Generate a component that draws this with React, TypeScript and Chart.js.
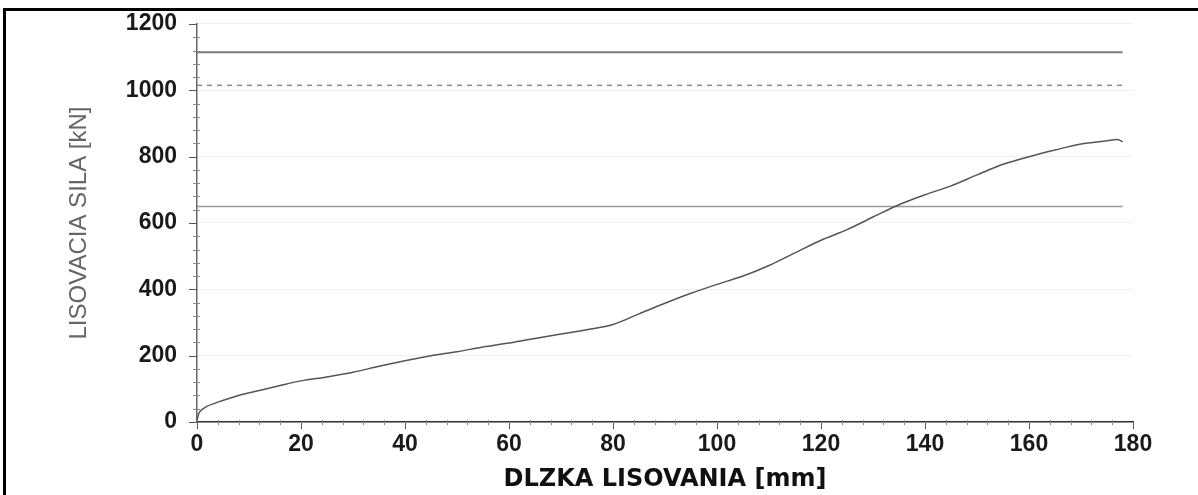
import React, { useEffect, useRef } from "react";
import { Chart, registerables } from "chart.js";

Chart.register(...registerables);

// Press stroke (mm) and press force (kN)
const distanceMm = [0, 0.4, 1, 2, 4, 8, 12, 16, 20, 25, 30, 35, 40, 45, 50, 55, 60, 65, 70, 75, 80, 85, 90, 95, 100, 105, 110, 115, 120, 125, 130, 135, 140, 145, 150, 155, 160, 165, 170, 175, 177, 178];
const forceKn = [5, 28, 38, 48, 60, 80, 95, 110, 124, 136, 150, 168, 185, 200, 212, 226, 238, 252, 265, 278, 294, 326, 358, 388, 415, 440, 472, 510, 548, 580, 618, 655, 685, 712, 745, 777, 800, 820, 838, 848, 852, 845];

// Horizontal reference levels (kN) and their extent (mm)
const referenceLevels = [1115, 1015, 650];
const referenceExtent = [0, 178];

const xTickValues = [0, 20, 40, 60, 80, 100, 120, 140, 160, 180];
const yTickValues = [0, 200, 400, 600, 800, 1000, 1200];
const xMinorStep = 4;
const yMinorStep = 40;

const xTitle = "DLZKA LISOVANIA [mm]";
const yTitle = "LISOVACIA SILA [kN]";

const axisTicksPlugin = {
  id: "axisTicks",
  afterDraw(chart: any) {
    const { ctx } = chart;
    const xs = chart.scales.x;
    const ys = chart.scales.y;
    ctx.save();
    ctx.lineWidth = 1;
    const ax = xs.getPixelForValue(0);
    const ay = ys.getPixelForValue(0);
    // y ticks
    for (let v = ys.min; v <= ys.max; v += yMinorStep) {
      const major = v % 200 === 0;
      const py = Math.round(ys.getPixelForValue(v)) + 0.5;
      ctx.strokeStyle = major ? "#555" : "#888";
      ctx.beginPath();
      if (major) {
        ctx.moveTo(ax - 8, py);
        ctx.lineTo(ax, py);
      } else {
        ctx.moveTo(ax - 4, py);
        ctx.lineTo(ax + 3, py);
      }
      ctx.stroke();
    }
    // x minor ticks
    ctx.strokeStyle = "#888";
    for (let v = xs.min; v <= xs.max; v += xMinorStep) {
      if (v % 20 === 0) continue;
      const px = Math.round(xs.getPixelForValue(v)) + 0.5;
      ctx.beginPath();
      ctx.moveTo(px, ay - 2);
      ctx.lineTo(px, ay + 3);
      ctx.stroke();
    }
    ctx.restore();
  },
};

export default function App() {
  const canvasRef = useRef<HTMLCanvasElement | null>(null);

  useEffect(() => {
    if (!canvasRef.current) return;
    const refStyles = [
      { color: "#7a7a7a", width: 2, dash: [] as number[] },
      { color: "#8c8c8c", width: 1.5, dash: [5, 5] },
      { color: "#999999", width: 1.5, dash: [] as number[] },
    ];
    const refDatasets = referenceLevels.map((lvl, i) => ({
      type: "line" as const,
      data: referenceExtent.map((x) => ({ x, y: lvl })),
      borderColor: refStyles[i].color,
      borderWidth: refStyles[i].width,
      borderDash: refStyles[i].dash,
      pointRadius: 0,
      order: 2,
    }));
    const chart = new Chart(canvasRef.current, {
      type: "line",
      data: {
        datasets: [
          {
            data: distanceMm.map((x, i) => ({ x, y: forceKn[i] })),
            borderColor: "#555555",
            borderWidth: 1.5,
            pointRadius: 0,
            tension: 0.3,
            order: 1,
          },
          ...refDatasets,
        ],
      },
      options: {
        animation: false,
        responsive: false,
        layout: { padding: { left: 0, right: 65, top: 0, bottom: 0 } },
        plugins: { legend: { display: false }, tooltip: { enabled: false } },
        scales: {
          x: {
            type: "linear",
            min: 0,
            max: 180,
            afterBuildTicks: (scale: any) => {
              scale.ticks = xTickValues.map((value) => ({ value }));
            },
            afterFit: (scale: any) => {
              scale.height = 73;
            },
            ticks: {
              padding: 2,
              color: "#1a1a1a",
              font: { family: "'Liberation Sans', Arial, sans-serif", size: 23, weight: "bold" },
              maxRotation: 0,
              callback: (v: any) => String(v),
            },
            grid: { drawOnChartArea: false, drawTicks: true, tickLength: 7, tickColor: "#555" },
            border: { display: true, color: "#333", width: 1.5 },
            title: {
              display: true,
              text: xTitle,
              color: "#111",
              font: { family: "'DejaVu Sans', sans-serif", size: 24, weight: "bold" },
              padding: { top: 0, bottom: 1 },
            },
          },
          y: {
            type: "linear",
            min: 0,
            max: 1200,
            afterBuildTicks: (scale: any) => {
              scale.ticks = yTickValues.map((value) => ({ value }));
            },
            afterFit: (scale: any) => {
              scale.width = 191;
            },
            ticks: {
              padding: 0,
              color: "#1a1a1a",
              font: { family: "'Liberation Sans', Arial, sans-serif", size: 23, weight: "bold", lineHeight: 1.13 },
              callback: (v: any) => String(v),
            },
            grid: { color: "#efefef", lineWidth: 1, drawTicks: true, tickLength: 20, tickColor: "rgba(0,0,0,0)" },
            border: { display: true, color: "#666", width: 1.5 },
            title: {
              display: true,
              text: yTitle,
              color: "#666",
              font: { family: "'Liberation Sans', Arial, sans-serif", size: 24, weight: "normal" },
              padding: { top: 59, bottom: 0 },
            },
          },
        },
      },
      plugins: [axisTicksPlugin],
    } as any);
    return () => chart.destroy();
  }, []);

  return (
    <div
      style={{
        position: "absolute",
        left: 3,
        top: 8,
        width: 1195,
        height: 487,
        borderTop: "3px solid #000",
        borderLeft: "3px solid #000",
        boxSizing: "border-box",
        background: "#fff",
        overflow: "hidden",
      }}
    >
      <canvas ref={canvasRef} width={1192} height={484} style={{ display: "block", width: 1192, height: 484 }} />
    </div>
  );
}
